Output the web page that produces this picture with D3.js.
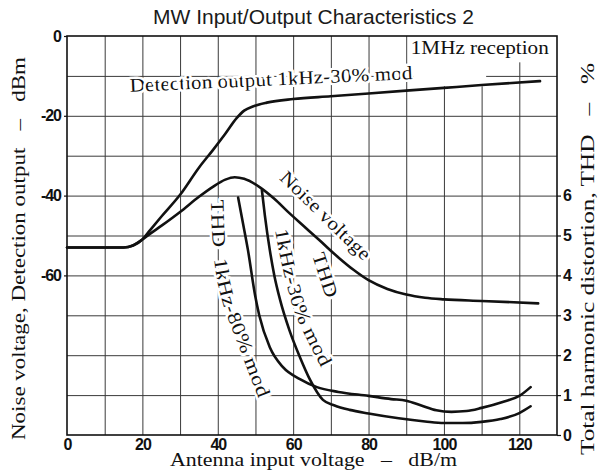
<!DOCTYPE html>
<meta charset="utf-8">
<style>
body { margin:0; background:#fff; }
svg { display:block; }
.title { font-family:"Liberation Sans", Arial, sans-serif; font-size:21px; fill:#1a1a1a; }
.serif { font-family:"Liberation Serif", "Times New Roman", serif; font-size:19px; fill:#111; white-space:pre; }
.axis text { font-family:"Liberation Sans", Arial, sans-serif; font-weight:bold; font-size:16px; fill:#111; letter-spacing:-1px; }
.axis path { display:none; }
.axis line { stroke:#111; stroke-width:1.2px; }
.grid line { stroke:#3a3a3a; stroke-width:1px; }
.grid path { display:none; }
.curve { fill:none; stroke:#111; stroke-width:2.6px; stroke-linecap:round; stroke-linejoin:round; }
.halo { stroke:#fff; stroke-width:5px; paint-order:stroke; stroke-linejoin:round; }
</style>
<body>
<script src="https://d3js.org/d3.v7.min.js"></script>
<script>
// ticks
var xTicks = [0, 20, 40, 60, 80, 100, 120];
var yTicks = [0, -20, -40, -60];
var thdTicks = [0, 1, 2, 3, 4, 5, 6];
var xGrid = [10, 20, 30, 40, 50, 60, 70, 80, 90, 100, 110, 120];
var yGrid = [-10, -20, -30, -40, -50, -60, -70, -80, -90];

// [antenna input dB/m, dBm]
var detectionOutput = [[0,-53],[15,-53],[17.5,-52.5],[20,-51],[22,-48.7],[25,-45.3],[30,-39.8],[35,-33],
  [38.7,-28.6],[42,-24.5],[45,-20.6],[47,-18.7],[49.5,-17.6],[53,-16.7],[60,-15.8],[70,-15.1],
  [80,-14.4],[90,-13.7],[100,-13],[110,-12.3],[125.5,-11.3]];
var noiseVoltage = [[0,-53],[15,-53],[17.5,-52.5],[20,-51],[22,-49.6],[25,-47.6],[30,-44.1],[35,-40.3],
  [38.7,-37.8],[42,-36],[44.5,-35.4],[47,-35.8],[51,-37.8],[55,-40.8],[59,-44.4],[63,-47.8],
  [67,-51.2],[72,-55.5],[76,-58.6],[80,-61.2],[85,-63.4],[90,-64.8],[95,-65.6],[100,-66],
  [110,-66.4],[125,-67]];
// [antenna input dB/m, THD %]
var thd80 = [[45.4,5.95],[46.7,5.3],[48,4.64],[49.9,3.5],[51,3.0],[53.8,2.2],[57.3,1.7],[61.8,1.4],
  [66.3,1.2],[72,1.08],[80,0.98],[86,0.9],[90,0.86],[94,0.74],[98,0.62],[102,0.58],[106,0.6],
  [110,0.68],[116,0.84],[120,0.98],[123,1.2]];
var thd30 = [[51.7,6.14],[52.5,5.5],[53.8,4.64],[55,4.0],[56.5,3.4],[59,2.63],[61.8,1.95],[64.5,1.38],
  [67.9,0.88],[71,0.74],[75,0.63],[80,0.54],[88,0.42],[95,0.34],[100,0.3],[105,0.3],[110,0.33],
  [115,0.4],[120,0.55],[123,0.72]];

var margin = {top: 36, right: 41, bottom: 41, left: 67};
var width = 598 - margin.left - margin.right,
    height = 476 - margin.top - margin.bottom;

var svg0 = d3.select("body").append("svg")
    .attr("width", 598)
    .attr("height", 476);

var svg = svg0.append("g")
    .attr("transform", "translate(" + margin.left + "," + margin.top + ")");

var x = d3.scaleLinear().domain([0, 130]).range([0, width]);
var y = d3.scaleLinear().domain([-100, 0]).range([height, 0]);
var yThd = d3.scaleLinear().domain([0, 10]).range([height, 0]);

// grid
svg.append("g")
    .attr("class", "grid")
    .attr("transform", "translate(0," + height + ")")
    .call(d3.axisBottom(x).tickValues(xGrid).tickSize(-height).tickFormat(""));
svg.append("g")
    .attr("class", "grid")
    .call(d3.axisLeft(y).tickValues(yGrid).tickSize(-width).tickFormat(""));

// white boxes behind the top right note
var boxes = [[90.4, 129.6, 0, -6.6], [92, 111.2, -6.5, -12.6]];
svg.selectAll("rect.box")
    .data(boxes)
  .enter().append("rect")
    .attr("class", "box")
    .attr("x", function(d) { return x(d[0]); })
    .attr("width", function(d) { return x(d[1]) - x(d[0]); })
    .attr("y", function(d) { return y(d[2]); })
    .attr("height", function(d) { return y(d[3]) - y(d[2]); })
    .attr("fill", "#fff");

svg.append("text")
    .attr("class", "serif")
    .attr("x", x(91.2))
    .attr("y", y(-4.5))
    .attr("textLength", 138)
    .attr("lengthAdjust", "spacingAndGlyphs")
    .text("1MHz reception");

// labels that follow the curves
var pathLine = d3.line()
    .x(function(d) { return x(d[0]); })
    .y(function(d) { return y(d[1]); })
    .curve(d3.curveCatmullRom);

var curveLabels = [
  {id: "lbl-det", text: "Detection output 1kHz-30% mod", len: 283, pts: [[16.7,-14.0],[95,-10.65]]},
  {id: "lbl-noise", text: "Noise voltage", len: 118, pts: [[56.2,-35.8],[66.7,-45.5],[80,-57.7]]},
  {id: "lbl-80", text: "THD  1kHz-80% mod", len: 206, pts: [[38.2,-41.1],[39.0,-56.1],[41.1,-66.2],[45.9,-78.7],[52.5,-95]]},
  {id: "lbl-30", text: "1kHz-30% mod", len: 146, pts: [[55.2,-48.6],[57.3,-58.6],[60.7,-69.9],[68.5,-85]]},
  {id: "lbl-30t", text: "THD", len: 46, pts: [[65,-54.9],[69.5,-68]]}
];

var defs = svg0.append("defs");
defs.selectAll("path")
    .data(curveLabels)
  .enter().append("path")
    .attr("id", function(d) { return d.id; })
    .attr("transform", "translate(" + margin.left + "," + margin.top + ")")
    .attr("d", function(d) { return pathLine(d.pts); });

svg0.selectAll("text.clbl")
    .data(curveLabels)
  .enter().append("text")
    .attr("class", "clbl serif halo")
    .append("textPath")
    .attr("href", function(d) { return "#" + d.id; })
    .attr("textLength", function(d) { return d.len; })
    .attr("lengthAdjust", "spacingAndGlyphs")
    .text(function(d) { return d.text; });

// curves
var line = d3.line()
    .x(function(d) { return x(d[0]); })
    .y(function(d) { return y(d[1]); })
    .curve(d3.curveMonotoneX);
var lineThd = d3.line()
    .x(function(d) { return x(d[0]); })
    .y(function(d) { return yThd(d[1]); })
    .curve(d3.curveMonotoneX);

svg.append("path").attr("class", "curve").attr("d", line(detectionOutput));
svg.append("path").attr("class", "curve").attr("d", line(noiseVoltage));
svg.append("path").attr("class", "curve").attr("d", lineThd(thd80));
svg.append("path").attr("class", "curve").attr("d", lineThd(thd30));

// frame
svg.append("rect")
    .attr("width", width)
    .attr("height", height)
    .attr("fill", "none")
    .attr("stroke", "#111")
    .attr("stroke-width", 1.6);

// axes
svg.append("g")
    .attr("class", "axis")
    .call(d3.axisLeft(y).tickValues(yTicks).tickSize(3).tickPadding(3)
      .tickFormat(function(d) { return d; }));
svg.append("g")
    .attr("class", "axis")
    .attr("transform", "translate(0," + height + ")")
    .call(d3.axisBottom(x).tickValues(xTicks).tickSize(0).tickPadding(4));
svg.append("g")
    .attr("class", "axis")
    .attr("transform", "translate(" + width + ",0)")
    .call(d3.axisRight(yThd).tickValues(thdTicks).tickSize(4).tickPadding(2));

// titles
svg0.append("text")
    .attr("class", "title")
    .attr("x", 313.5)
    .attr("y", 24)
    .attr("text-anchor", "middle")
    .text("MW Input/Output Characteristics 2");

svg0.append("text")
    .attr("class", "serif")
    .attr("x", 313.5)
    .attr("y", 466)
    .attr("text-anchor", "middle")
    .attr("textLength", 287)
    .attr("lengthAdjust", "spacingAndGlyphs")
    .text("Antenna input voltage   \u2013   dB/m");

svg0.append("text")
    .attr("class", "serif")
    .attr("transform", "translate(25,248.5) rotate(-90)")
    .attr("text-anchor", "middle")
    .attr("textLength", 383)
    .attr("lengthAdjust", "spacingAndGlyphs")
    .text("Noise voltage, Detection output   \u2013   dBm");

svg0.append("text")
    .attr("class", "serif")
    .attr("transform", "translate(594,259) rotate(-90)")
    .attr("text-anchor", "middle")
    .attr("textLength", 392)
    .attr("lengthAdjust", "spacingAndGlyphs")
    .text("Total harmonic distortion, THD   \u2013   %");
</script>
</body>
